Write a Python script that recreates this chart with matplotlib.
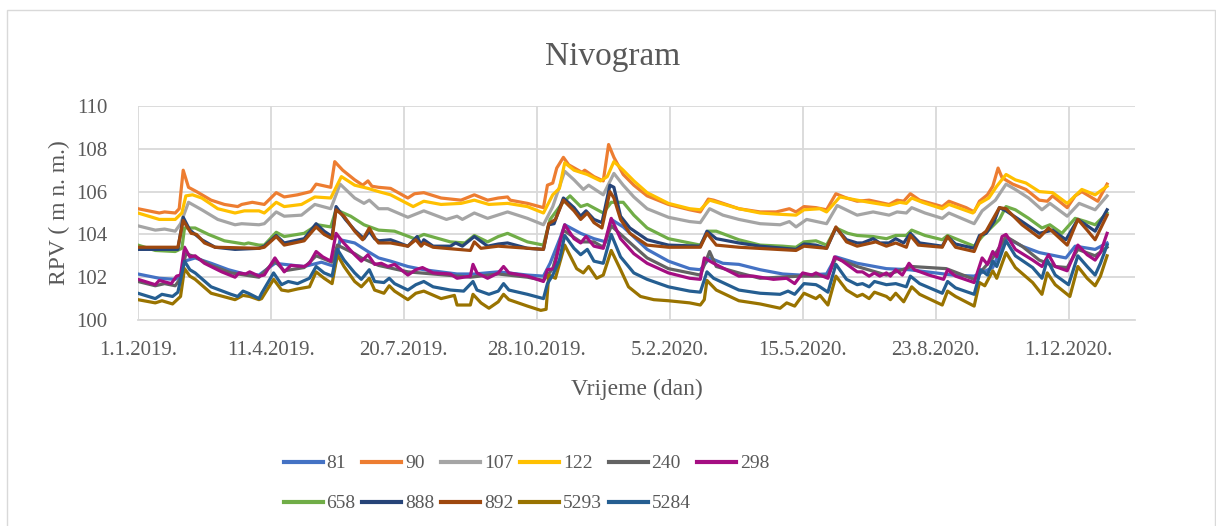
import pandas as pd
import matplotlib
matplotlib.use("Agg")
import matplotlib.pyplot as plt
import matplotlib.dates as mdates
from matplotlib.patches import Rectangle

# days counted from 1.1.2019., water level in m n. m.
d81 = [0, 16, 28, 32, 35, 43, 55, 68, 80, 91, 103, 110, 125, 138, 148, 152, 163, 173, 181, 190, 203, 215, 240, 253, 271, 293, 305, 310, 318, 321, 333, 343, 352, 356, 365, 383, 399, 415, 423, 430, 440, 452, 468, 485, 498, 518, 525, 541, 563, 580, 600, 613, 629, 643, 653, 665, 678, 690, 698, 705, 720, 729]
v81 = [102.15, 101.95, 101.9, 102.05, 102.75, 102.9, 102.65, 102.35, 102.15, 102.1, 102.65, 102.6, 102.5, 102.7, 102.5, 103.75, 103.6, 103.2, 102.9, 102.75, 102.5, 102.35, 102.15, 102.15, 102.25, 102.1, 102.05, 102.65, 103.9, 104.45, 104.05, 103.8, 103.65, 104.7, 104.35, 103.3, 102.75, 102.4, 102.35, 102.9, 102.65, 102.6, 102.35, 102.15, 102.1, 102.15, 102.95, 102.65, 102.4, 102.35, 102.2, 102.1, 102.05, 102.45, 103.85, 103.45, 103.15, 103.0, 102.9, 103.45, 103.3, 103.6]

d90 = [0, 16, 20, 28, 31, 34, 38, 44, 55, 65, 75, 78, 86, 95, 104, 110, 120, 130, 134, 145, 148, 154, 163, 169, 173, 176, 181, 190, 203, 208, 215, 228, 243, 253, 263, 271, 278, 280, 293, 305, 308, 312, 315, 320, 324, 334, 336, 343, 350, 354, 358, 365, 373, 383, 399, 415, 423, 429, 433, 452, 468, 480, 490, 495, 501, 510, 518, 525, 533, 541, 550, 565, 571, 576, 581, 588, 605, 610, 623, 629, 633, 639, 643, 647, 650, 658, 668, 678, 684, 688, 699, 705, 710, 722, 729]
v90 = [105.2, 105.0, 105.05, 105.0, 105.2, 107.0, 106.2, 106.0, 105.6, 105.4, 105.3, 105.4, 105.5, 105.4, 105.95, 105.75, 105.85, 106.0, 106.35, 106.2, 107.4, 107.0, 106.55, 106.3, 106.5, 106.25, 106.2, 106.15, 105.7, 105.9, 105.95, 105.7, 105.6, 105.85, 105.6, 105.7, 105.75, 105.6, 105.45, 105.25, 106.3, 106.4, 107.1, 107.6, 107.25, 106.9, 107.0, 106.7, 106.5, 108.2, 107.6, 106.8, 106.3, 105.8, 105.4, 105.15, 105.05, 105.65, 105.6, 105.2, 105.05, 105.05, 105.2, 105.05, 105.3, 105.25, 105.15, 105.9, 105.7, 105.55, 105.6, 105.4, 105.6, 105.55, 105.9, 105.6, 105.3, 105.55, 105.25, 105.05, 105.55, 105.85, 106.25, 107.1, 106.65, 106.35, 106.1, 105.6, 105.55, 105.8, 105.25, 105.8, 106.0, 105.55, 106.35]

d107 = [0, 13, 20, 28, 32, 38, 48, 60, 73, 78, 91, 95, 104, 110, 123, 133, 145, 152, 163, 170, 174, 181, 188, 203, 215, 232, 240, 244, 253, 263, 278, 293, 305, 312, 321, 328, 335, 339, 350, 358, 365, 373, 383, 399, 415, 423, 430, 440, 452, 468, 483, 490, 495, 503, 518, 526, 541, 553, 565, 571, 578, 582, 592, 605, 610, 629, 635, 645, 653, 660, 670, 680, 686, 699, 708, 720, 729]
v107 = [104.4, 104.2, 104.25, 104.15, 104.5, 105.5, 105.15, 104.7, 104.45, 104.5, 104.45, 104.5, 105.05, 104.85, 104.9, 105.4, 105.2, 106.35, 105.7, 105.45, 105.6, 105.2, 105.2, 104.8, 105.1, 104.7, 104.85, 104.7, 105.0, 104.75, 105.05, 104.75, 104.45, 105.3, 106.95, 106.55, 106.1, 106.3, 105.85, 106.85, 106.3, 105.75, 105.2, 104.8, 104.6, 104.55, 105.2, 104.9, 104.7, 104.5, 104.45, 104.6, 104.35, 104.7, 104.5, 105.35, 104.9, 105.05, 104.9, 105.05, 105.0, 105.25, 105.0, 104.75, 105.0, 104.5, 105.1, 105.6, 106.35, 106.1, 105.7, 105.15, 105.45, 104.85, 105.45, 105.15, 105.8]

d122 = [0, 16, 28, 33, 36, 41, 48, 60, 73, 80, 91, 95, 104, 110, 123, 133, 145, 153, 163, 173, 181, 190, 207, 215, 228, 243, 253, 264, 278, 293, 305, 312, 317, 321, 328, 338, 348, 353, 358, 365, 373, 383, 399, 415, 423, 430, 452, 468, 480, 495, 501, 513, 518, 528, 541, 550, 565, 573, 578, 582, 590, 605, 610, 628, 633, 640, 646, 653, 660, 668, 678, 688, 699, 710, 720, 729]
v122 = [105.0, 104.7, 104.7, 105.0, 105.8, 105.85, 105.7, 105.2, 105.0, 105.1, 105.1, 105.0, 105.5, 105.3, 105.4, 105.75, 105.7, 106.7, 106.3, 106.15, 106.0, 105.85, 105.3, 105.55, 105.4, 105.45, 105.6, 105.4, 105.45, 105.3, 105.0, 105.85, 106.15, 107.35, 107.0, 106.8, 106.5, 106.7, 107.4, 107.0, 106.5, 105.95, 105.45, 105.2, 105.15, 105.6, 105.2, 105.0, 104.95, 104.9, 105.15, 105.2, 105.05, 105.75, 105.6, 105.5, 105.35, 105.5, 105.45, 105.7, 105.5, 105.2, 105.4, 105.0, 105.45, 105.7, 106.25, 106.8, 106.55, 106.4, 106.0, 105.95, 105.45, 106.1, 105.85, 106.25]

d240 = [0, 13, 20, 28, 32, 36, 43, 55, 70, 91, 103, 110, 125, 134, 146, 150, 163, 168, 181, 203, 222, 250, 271, 293, 305, 312, 320, 333, 343, 350, 356, 373, 383, 399, 423, 430, 435, 452, 468, 498, 519, 525, 541, 563, 582, 608, 629, 643, 653, 665, 678, 690, 699, 707, 720, 729]
v240 = [101.8, 101.6, 101.7, 101.6, 101.95, 103.1, 102.95, 102.55, 102.2, 102.0, 102.75, 102.3, 102.45, 103.0, 102.7, 103.5, 103.1, 102.9, 102.55, 102.25, 102.15, 102.0, 102.15, 102.0, 101.85, 102.4, 104.2, 103.65, 103.65, 103.4, 104.4, 103.45, 102.9, 102.4, 102.1, 103.2, 102.5, 102.2, 101.95, 102.05, 102.05, 102.9, 102.5, 102.1, 102.5, 102.4, 101.9, 102.9, 103.9, 103.45, 102.8, 102.5, 102.45, 103.3, 103.0, 103.4]

d298 = [0, 13, 16, 25, 29, 32, 35, 39, 43, 50, 63, 73, 76, 81, 84, 91, 95, 103, 110, 115, 125, 129, 134, 139, 145, 149, 154, 163, 168, 173, 178, 183, 188, 193, 203, 209, 214, 222, 235, 240, 250, 252, 255, 263, 271, 275, 279, 293, 305, 308, 313, 318, 321, 328, 333, 337, 343, 350, 356, 363, 373, 383, 399, 415, 423, 426, 433, 452, 463, 478, 488, 494, 500, 507, 510, 515, 519, 524, 530, 541, 545, 550, 554, 558, 563, 566, 570, 575, 580, 584, 595, 606, 609, 615, 629, 635, 639, 643, 646, 650, 653, 660, 673, 680, 685, 690, 699, 707, 714, 720, 724, 729]
v298 = [101.9, 101.65, 101.85, 101.7, 102.05, 102.1, 103.4, 102.95, 103.0, 102.65, 102.25, 102.0, 102.2, 102.15, 102.25, 102.05, 102.1, 102.9, 102.25, 102.55, 102.5, 102.65, 103.2, 102.95, 102.75, 104.05, 103.65, 103.05, 102.75, 103.05, 102.6, 102.65, 102.5, 102.6, 102.1, 102.35, 102.45, 102.2, 102.15, 101.95, 102.05, 102.6, 102.2, 101.95, 102.2, 102.5, 102.2, 102.05, 101.8, 102.35, 102.4, 103.8, 104.45, 103.8, 103.6, 103.9, 103.45, 103.35, 104.75, 103.8, 103.1, 102.65, 102.2, 101.95, 101.9, 102.9, 102.65, 102.05, 102.05, 101.9, 101.95, 101.7, 102.2, 102.1, 102.2, 102.05, 101.95, 102.95, 102.75, 102.25, 102.25, 102.05, 102.2, 102.05, 102.2, 102.05, 102.35, 102.1, 102.65, 102.35, 102.1, 101.9, 102.35, 102.05, 101.75, 102.9, 102.6, 103.2, 102.95, 103.9, 104.0, 103.3, 102.8, 102.5, 103.05, 102.5, 102.3, 103.5, 103.05, 102.8, 103.15, 104.05]

d658 = [0, 13, 28, 33, 35, 43, 53, 65, 80, 83, 91, 95, 104, 110, 125, 135, 145, 149, 160, 170, 181, 193, 208, 215, 235, 246, 253, 263, 271, 278, 293, 305, 310, 319, 325, 333, 338, 350, 356, 365, 373, 383, 399, 415, 423, 429, 435, 452, 468, 485, 495, 501, 510, 518, 525, 534, 541, 553, 563, 570, 578, 582, 592, 605, 609, 629, 635, 648, 653, 660, 670, 680, 686, 695, 705, 713, 720, 729]
v658 = [103.5, 103.25, 103.2, 103.35, 104.3, 104.3, 104.0, 103.7, 103.55, 103.6, 103.5, 103.5, 104.1, 103.9, 104.05, 104.45, 104.35, 105.15, 104.85, 104.45, 104.2, 104.15, 103.8, 104.0, 103.65, 103.6, 103.95, 103.65, 103.9, 104.05, 103.65, 103.5, 104.7, 105.45, 105.8, 105.3, 105.4, 105.0, 105.5, 105.5, 104.9, 104.3, 103.8, 103.6, 103.5, 104.15, 104.15, 103.75, 103.5, 103.45, 103.4, 103.65, 103.7, 103.5, 104.3, 104.05, 103.95, 103.9, 103.8, 103.95, 103.95, 104.2, 103.95, 103.75, 103.95, 103.45, 103.9, 104.7, 105.3, 105.15, 104.75, 104.3, 104.45, 104.05, 104.75, 104.6, 104.45, 105.0]

d888 = [0, 30, 34, 39, 43, 48, 58, 73, 91, 95, 104, 110, 125, 134, 140, 146, 149, 156, 163, 170, 174, 178, 181, 190, 203, 210, 213, 215, 222, 235, 239, 244, 253, 263, 271, 278, 293, 305, 309, 313, 320, 328, 333, 337, 343, 349, 355, 358, 363, 370, 383, 399, 423, 428, 435, 452, 468, 495, 501, 510, 518, 525, 533, 541, 545, 553, 558, 565, 570, 576, 581, 588, 605, 609, 615, 629, 633, 638, 644, 648, 653, 665, 678, 688, 698, 707, 713, 720, 729]
v888 = [103.3, 103.3, 104.8, 104.2, 104.0, 103.75, 103.4, 103.3, 103.35, 103.45, 103.95, 103.6, 103.8, 104.5, 104.15, 103.9, 105.3, 104.7, 104.2, 103.8, 104.15, 103.8, 103.7, 103.75, 103.45, 103.9, 103.5, 103.75, 103.45, 103.45, 103.6, 103.45, 103.9, 103.45, 103.55, 103.6, 103.35, 103.3, 104.45, 104.5, 105.7, 105.25, 104.85, 105.1, 104.7, 104.55, 106.3, 106.2, 104.85, 104.3, 103.75, 103.5, 103.45, 104.15, 103.8, 103.6, 103.45, 103.3, 103.55, 103.5, 103.35, 104.3, 103.75, 103.6, 103.6, 103.8, 103.6, 103.6, 103.8, 103.6, 104.05, 103.6, 103.45, 103.9, 103.55, 103.35, 103.95, 104.05, 104.6, 105.25, 105.1, 104.6, 104.05, 104.2, 103.75, 104.7, 104.45, 104.15, 105.15]

d892 = [0, 30, 34, 40, 44, 50, 58, 91, 95, 104, 110, 125, 134, 140, 146, 149, 155, 163, 169, 174, 179, 181, 190, 203, 209, 213, 215, 222, 250, 253, 258, 271, 305, 309, 314, 320, 328, 333, 338, 343, 349, 355, 358, 363, 370, 383, 399, 423, 428, 435, 452, 495, 501, 518, 525, 533, 541, 555, 563, 570, 578, 581, 587, 605, 609, 615, 629, 634, 638, 648, 653, 665, 678, 685, 699, 707, 714, 720, 729]
v892 = [103.4, 103.4, 104.65, 104.05, 104.0, 103.6, 103.4, 103.35, 103.4, 103.9, 103.5, 103.7, 104.35, 104.0, 103.8, 105.15, 104.85, 104.15, 103.75, 104.3, 103.75, 103.6, 103.6, 103.45, 103.75, 103.45, 103.6, 103.4, 103.25, 103.65, 103.35, 103.45, 103.3, 104.5, 104.7, 105.6, 105.1, 104.7, 105.0, 104.55, 104.3, 106.0, 105.7, 104.7, 104.05, 103.5, 103.4, 103.4, 104.05, 103.5, 103.4, 103.25, 103.45, 103.35, 104.35, 103.65, 103.45, 103.65, 103.45, 103.6, 103.4, 103.95, 103.5, 103.4, 103.9, 103.4, 103.2, 103.95, 104.15, 105.25, 105.2, 104.45, 103.85, 104.3, 103.5, 104.7, 104.2, 103.75, 104.9]

d5293 = [0, 13, 18, 26, 32, 35, 39, 43, 55, 73, 79, 84, 91, 93, 102, 108, 113, 120, 129, 134, 140, 146, 150, 155, 163, 168, 174, 178, 185, 189, 193, 203, 209, 215, 228, 238, 240, 250, 252, 258, 264, 271, 275, 279, 293, 303, 307, 309, 314, 321, 330, 335, 339, 345, 350, 356, 363, 369, 378, 388, 399, 415, 423, 426, 428, 435, 452, 468, 483, 488, 494, 501, 510, 513, 519, 525, 533, 541, 545, 550, 554, 563, 566, 570, 576, 582, 588, 605, 609, 615, 629, 633, 637, 643, 646, 653, 660, 673, 680, 684, 690, 701, 707, 714, 720, 724, 729]
v5293 = [100.95, 100.8, 100.9, 100.75, 101.1, 102.4, 102.05, 101.9, 101.25, 100.95, 101.15, 101.1, 100.95, 101.0, 101.9, 101.4, 101.35, 101.45, 101.55, 102.25, 101.95, 101.7, 103.05, 102.5, 101.8, 101.55, 101.95, 101.4, 101.25, 101.6, 101.35, 100.95, 101.25, 101.35, 101.0, 101.15, 100.7, 100.7, 101.2, 100.8, 100.55, 100.85, 101.2, 100.95, 100.65, 100.45, 100.5, 102.1, 101.95, 103.5, 102.4, 102.2, 102.5, 101.95, 102.1, 103.25, 102.35, 101.55, 101.1, 100.95, 100.9, 100.8, 100.7, 100.95, 101.85, 101.4, 100.9, 100.75, 100.55, 100.8, 100.65, 101.25, 101.0, 101.15, 100.7, 102.05, 101.4, 101.1, 101.2, 101.0, 101.3, 101.1, 100.95, 101.25, 100.85, 101.55, 101.2, 100.7, 101.35, 101.1, 100.65, 101.75, 101.6, 102.3, 101.95, 103.15, 102.45, 101.75, 101.2, 102.2, 101.65, 101.1, 102.5, 101.95, 101.6, 102.05, 103.0]

d5284 = [0, 13, 18, 26, 30, 35, 39, 43, 55, 70, 75, 79, 83, 91, 93, 102, 108, 113, 120, 129, 134, 140, 146, 150, 155, 163, 168, 174, 178, 185, 189, 193, 203, 209, 215, 222, 235, 245, 252, 255, 264, 271, 275, 279, 293, 305, 308, 312, 317, 321, 328, 333, 338, 343, 350, 356, 363, 373, 383, 399, 415, 423, 428, 433, 452, 468, 483, 489, 494, 501, 510, 513, 519, 525, 533, 541, 545, 550, 554, 563, 570, 578, 581, 588, 605, 609, 615, 629, 634, 639, 643, 646, 653, 660, 673, 680, 684, 690, 700, 707, 714, 720, 724, 729]
v5284 = [101.25, 101.0, 101.2, 101.1, 101.3, 102.75, 102.35, 102.2, 101.55, 101.2, 101.1, 101.35, 101.25, 101.0, 101.25, 102.2, 101.65, 101.8, 101.7, 101.95, 102.5, 102.2, 102.05, 103.3, 102.8, 102.2, 101.9, 102.35, 101.8, 101.75, 101.95, 101.7, 101.4, 101.65, 101.8, 101.55, 101.4, 101.35, 101.8, 101.4, 101.2, 101.35, 101.7, 101.4, 101.2, 101.0, 101.7, 102.1, 102.8, 103.95, 103.35, 103.05, 103.3, 102.75, 102.65, 104.0, 102.95, 102.2, 101.9, 101.55, 101.35, 101.3, 102.25, 101.95, 101.4, 101.25, 101.2, 101.35, 101.2, 101.7, 101.65, 101.55, 101.3, 102.6, 101.9, 101.65, 101.7, 101.55, 101.8, 101.65, 101.7, 101.55, 102.05, 101.7, 101.25, 101.8, 101.5, 101.2, 102.35, 102.1, 102.75, 102.5, 103.7, 103.0, 102.45, 101.95, 102.8, 102.1, 101.65, 103.0, 102.5, 102.1, 102.65, 103.5]

names = ["81", "90", "107", "122", "240", "298", "658", "888", "892", "5293", "5284"]
days = [d81, d90, d107, d122, d240, d298, d658, d888, d892, d5293, d5284]
levels = [v81, v90, v107, v122, v240, v298, v658, v888, v892, v5293, v5284]
colors = ["#4472C4", "#ED7D31", "#A5A5A5", "#FFC000", "#636363", "#A50E82",
          "#70AD47", "#264478", "#9E480E", "#997300", "#255E91"]

start = pd.Timestamp("2019-01-01")
grey = "#595959"

plt.rcParams["font.family"] = ["Liberation Serif", "DejaVu Serif"]

fig = plt.figure(figsize=(12.16, 5.26), dpi=100)
W, H = 1216, 526
ax = fig.add_axes([138 / W, 1 - 320 / H, (1135 - 138) / W, (320 - 106) / H])

for name, d, v, c in zip(names, days, levels, colors):
    x = start + pd.to_timedelta(d, unit="D")
    ax.plot(x, v, color=c, lw=2.3, label=name, solid_joinstyle="round")

ticks = [start + pd.Timedelta(days=100 * k) for k in range(8)]
ax.set_xticks(ticks)
ax.xaxis.set_major_formatter(plt.FuncFormatter(
    lambda val, pos: "{0.day}.{0.month}.{0.year}.".format(mdates.num2date(val))))
ax.set_xlim(start, start + pd.Timedelta(days=750))
ax.set_ylim(100, 110)
ax.set_yticks(range(100, 111, 2))

ax.grid(True, color="#D9D9D9", lw=1.3)
ax.set_axisbelow(True)
for s in ["top", "right", "left"]:
    ax.spines[s].set_visible(False)
ax.spines["bottom"].set_color("#D9D9D9")
ax.spines["bottom"].set_linewidth(1.3)
ax.tick_params(axis="x", length=0, pad=15, labelsize=15, labelcolor=grey)
ax.tick_params(axis="y", length=0, pad=22, labelsize=15, labelcolor=grey)

fig.text(613 / W, 1 - 57 / H, "Nivogram", ha="center", va="center", fontsize=24, color=grey)
fig.text(637 / W, 1 - 389 / H, "Vrijeme (dan)", ha="center", va="center", fontsize=17, color=grey)
fig.text(59 / W, 1 - 213 / H, "RPV ( m n. m.)", ha="center", va="center", rotation=90,
         fontsize=17, color=grey)

# legend is filled column by column, so interleave the two rows
handles, labels = ax.get_legend_handles_labels()
order = [0, 6, 1, 7, 2, 8, 3, 9, 4, 10, 5]
leg = fig.legend([handles[i] for i in order], [labels[i] for i in order], ncol=6,
                 loc="upper left", bbox_to_anchor=(274 / W, 1 - 445 / H),
                 frameon=False, fontsize=14, handlelength=2.0, handletextpad=0.2,
                 columnspacing=0.35, labelspacing=1.15, borderpad=0)
for t in leg.get_texts():
    t.set_color(grey)
for h in leg.legend_handles:
    h.set_linewidth(3)

fig.add_artist(Rectangle((7 / W, -0.02), (1215 - 7) / W, 1 - 10 / H + 0.02, fill=False,
                         edgecolor="#D9D9D9", lw=1, transform=fig.transFigure))

fig.savefig("out.png", dpi=100)
